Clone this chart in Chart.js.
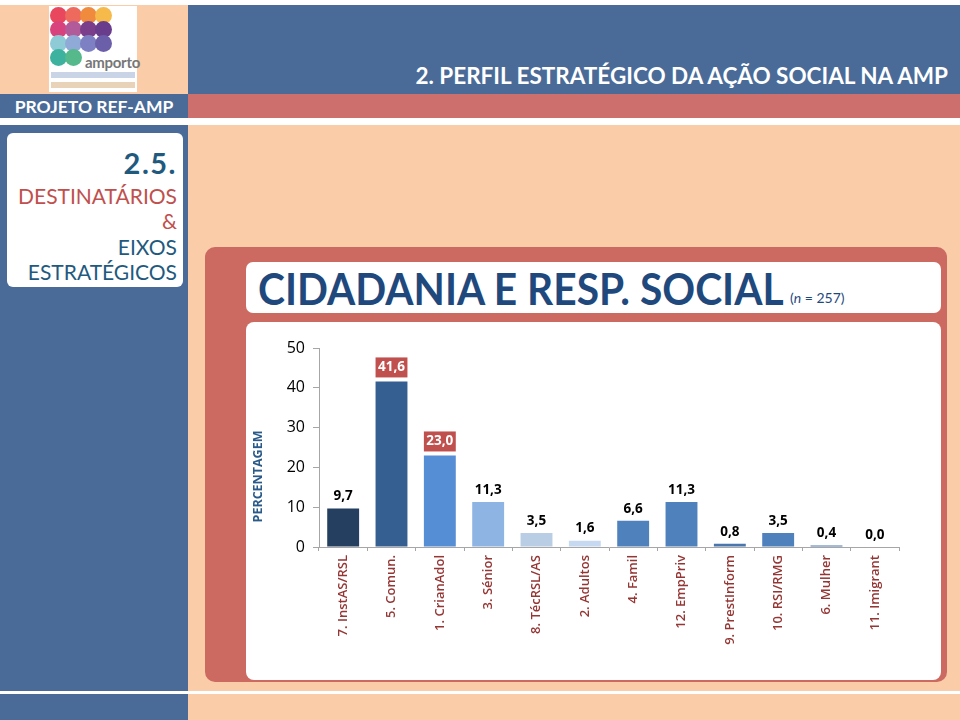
<!DOCTYPE html>
<html>
<head>
<meta charset="utf-8">
<script src="https://cdn.jsdelivr.net/npm/chart.js@4"></script>
<style>
  html, body { margin: 0; padding: 0; }
  body { width: 960px; height: 720px; position: relative; overflow: hidden; background: #FACDA8; font-family: Lato, "Open Sans", sans-serif; }
  .abs { position: absolute; }
  #topline { left: 0; top: 0; width: 960px; height: 5px; background: #fff; }
  #header { left: 188px; top: 5px; width: 772px; height: 89px; background: #4A6B98; }
  #header span { position: absolute; right: 12px; bottom: 5px; color: #fff; font-weight: 700; font-size: 22.5px; }
  #logo { left: 49px; top: 6px; width: 88px; height: 86px; background: #fff; }
  .dot { position: absolute; width: 17px; height: 17px; border-radius: 50%; }
  #amporto { position: absolute; left: 36px; top: 47px; font-size: 15px; font-weight: 700; color: #777; letter-spacing: -0.3px; }
  .mini { position: absolute; height: 6px; background: #bbb; }
  #proj { left: 0; top: 94px; width: 188px; height: 24px; background: #4A6B98; color: #fff; font-weight: 700; font-size: 17.5px; line-height: 25px; text-align: center; }
  #redbar { left: 188px; top: 94px; width: 772px; height: 24px; background: #CD6F6C; }
  #gap { left: 0; top: 118px; width: 960px; height: 7px; background: #fff; }
  #leftcol { left: 0; top: 125px; width: 188px; height: 595px; background: #4A6B98; }
  #card { left: 7px; top: 133px; width: 176px; height: 154px; background: #fff; border-radius: 6px; }
  #card div { position: absolute; right: 6px; font-size: 21px; white-space: nowrap; }
  #panel { left: 205px; top: 247px; width: 742px; height: 435px; background: #CC6A62; border-radius: 10px; }
  #titlebox { left: 246px; top: 262px; width: 695px; height: 51px; background: #fff; border-radius: 7px; }
  #title { position: absolute; left: 12px; top: 0px; white-space: nowrap; color: #1F497D; font-size: 44px; font-weight: 700; transform: scaleX(0.925); transform-origin: left; }
  #nlabel { position: absolute; left: 544px; top: 27px; color: #1F497D; font-size: 14px; white-space: nowrap; }
  #chartbox { left: 246px; top: 322px; width: 695px; height: 358px; background: #fff; border-radius: 8px; }
  #ytitle { left: 210px; top: 468px; width: 95px; text-align: center; transform: rotate(-90deg); color: #2A5A8A; font-weight: 700; font-size: 12.5px; font-family: "Open Sans", sans-serif; }
  #bottomline { left: 0; top: 691px; width: 960px; height: 3px; background: #fff; }
  canvas { position: absolute; left: 0; top: 0; }
</style>
</head>
<body>
<div class="abs" id="topline"></div>
<div class="abs" id="header"><span>2. PERFIL ESTRATÉGICO DA AÇÃO SOCIAL NA AMP</span></div>
<div class="abs" id="logo">
  <div class="dot" style="left:1px;top:1px;background:#E8475E"></div>
  <div class="dot" style="left:16px;top:1px;background:#EE6A5C"></div>
  <div class="dot" style="left:31px;top:1px;background:#F08A3C"></div>
  <div class="dot" style="left:46px;top:1px;background:#F5BA4A"></div>
  <div class="dot" style="left:1px;top:15px;background:#D8437E"></div>
  <div class="dot" style="left:16px;top:15px;background:#B25B9A"></div>
  <div class="dot" style="left:31px;top:15px;background:#7B3E8B"></div>
  <div class="dot" style="left:46px;top:15px;background:#6A3C8C"></div>
  <div class="dot" style="left:1px;top:29px;background:#8ECBD6"></div>
  <div class="dot" style="left:16px;top:29px;background:#90AAD8"></div>
  <div class="dot" style="left:31px;top:29px;background:#7D80C2"></div>
  <div class="dot" style="left:46px;top:29px;background:#6A5FA8"></div>
  <div class="dot" style="left:1px;top:43px;background:#3DB39F"></div>
  <div class="dot" style="left:16px;top:43px;background:#55B98B"></div>
  <div id="amporto">amporto</div>
  <div class="mini" style="left:2px;top:66px;width:84px;background:#c9d4e6"></div>
  <div class="mini" style="left:2px;top:76px;width:84px;background:#e8d2b8"></div>
</div>
<div class="abs" id="proj">PROJETO REF-AMP</div>
<div class="abs" id="redbar"></div>
<div class="abs" id="gap"></div>
<div class="abs" id="leftcol"></div>
<div class="abs" id="card">
  <div style="top:12px;font-size:29px;font-weight:700;color:#1F5A7E;letter-spacing:1.5px">2.5.</div>
  <div style="top:50px;color:#C0504D">DESTINATÁRIOS</div>
  <div style="top:75px;color:#C0504D">&amp;</div>
  <div style="top:101px;color:#1F5A7E">EIXOS</div>
  <div style="top:126px;color:#1F5A7E">ESTRATÉGICOS</div>
</div>
<div class="abs" id="panel"></div>
<div class="abs" id="titlebox">
  <div id="title">CIDADANIA E RESP. SOCIAL</div>
  <div id="nlabel">(<i>n</i> = 257)</div>
</div>
<div class="abs" id="chartbox"><canvas id="chart" width="695" height="358"></canvas></div>
<div class="abs" id="ytitle">PERCENTAGEM</div>
<div class="abs" id="bottomline"></div>

<script>
const CATEGORIES = ["7. InstAS/RSL", "5. Comun.", "1. CrianAdol", "3. Sénior", "8. TécRSL/AS", "2. Adultos",
  "4. Famil", "12. EmpPriv", "9. PrestInform", "10. RSI/RMG", "6. Mulher", "11. Imigrant"];
const VALUES = [9.7, 41.6, 23.0, 11.3, 3.5, 1.6, 6.6, 11.3, 0.8, 3.5, 0.4, 0.0];
const BAR_COLORS = ["#243F60", "#365F91", "#558ED5", "#8EB4E3", "#B9CDE5", "#C6D9F1",
  "#4F81BD", "#4F81BD", "#4A76AE", "#4F81BD", "#4A76AE", "#4F81BD"];
const HIGHLIGHTED = [1, 2];
const Y_TICKS = [0, 10, 20, 30, 40, 50];

function fmt(v) { return v.toFixed(1).replace('.', ','); }

// value labels above the bars, top ones in red boxes
const valueLabels = {
  id: 'valueLabels',
  afterDatasetsDraw(chart) {
    const ctx = chart.ctx;
    const meta = chart.getDatasetMeta(0);
    ctx.save();
    ctx.font = 'bold 13.5px "Open Sans", sans-serif';
    ctx.textAlign = 'center';
    ctx.textBaseline = 'middle';
    meta.data.forEach((bar, i) => {
      const txt = fmt(VALUES[i]);
      if (HIGHLIGHTED.includes(i)) {
        const w = bar.width;
        ctx.fillStyle = '#C0504D';
        ctx.fillRect(bar.x - w / 2, bar.y - 24, w, 20);
        ctx.fillStyle = '#fff';
        ctx.fillText(txt, bar.x, bar.y - 14);
      } else {
        ctx.fillStyle = '#000';
        ctx.fillText(txt, bar.x, bar.y - 12);
      }
    });
    ctx.restore();
  }
};

new Chart(document.getElementById('chart'), {
  type: 'bar',
  data: {
    labels: CATEGORIES,
    datasets: [{
      data: VALUES,
      backgroundColor: BAR_COLORS,
      categoryPercentage: 1,
      barPercentage: 0.66
    }]
  },
  options: {
    responsive: false,
    animation: false,
    layout: { padding: { top: 26, right: 42, left: 0, bottom: 0 } },
    plugins: { legend: { display: false }, tooltip: { enabled: false } },
    scales: {
      x: {
        afterFit(s) { s.height = 133; },
        grid: { offset: true, drawOnChartArea: false, drawTicks: true, tickLength: 4, color: '#A6A6A6' },
        border: { color: '#A6A6A6' },
        ticks: {
          minRotation: 90, maxRotation: 90, autoSkip: false, padding: 4,
          color: '#943634',
          font: { family: '"Open Sans", sans-serif', size: 13, weight: '600' }
        }
      },
      y: {
        min: 0, max: 50,
        afterFit(s) { s.width = 73; },
        afterBuildTicks(s) { s.ticks = Y_TICKS.map(v => ({ value: v })); },
        grid: { drawOnChartArea: false, drawTicks: true, tickLength: 6, color: '#A6A6A6' },
        border: { color: '#A6A6A6' },
        ticks: {
          padding: 8, color: '#000',
          font: { family: '"Open Sans", sans-serif', size: 16 }
        }
      }
    }
  },
  plugins: [valueLabels]
});
</script>
</body>
</html>
